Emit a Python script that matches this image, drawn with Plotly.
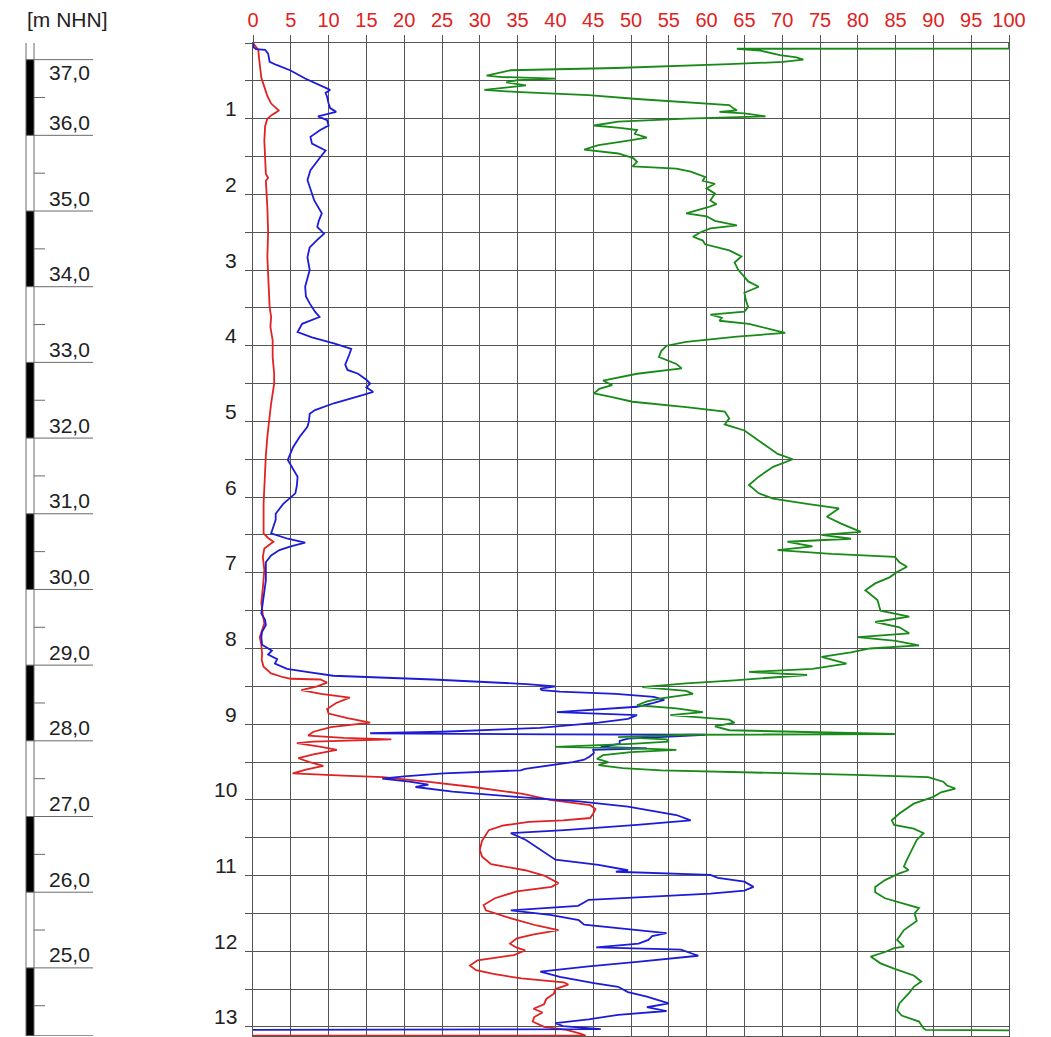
import plotly.graph_objects as go

# ---- scales -------------------------------------------------------------
GROUND_LEVEL = 37.22          # m NHN at depth 0
DEPTH_MAX = 13.12             # bottom of the log, m below ground
X_TICKS = list(range(0, 101, 5))
DEPTH_LABELS = list(range(1, 14))
ELEV_LABELS = list(range(37, 24, -1))

# ---- readings (depth in m, value on the 0..100 scale) ---------------------
red_depth = [0.00, 0.05, 0.09, 0.20, 0.30, 0.46, 0.58, 0.70, 0.80, 0.86, 0.89, 0.92, 0.95, 1.00,
             1.10, 1.29, 1.50, 1.73, 1.78, 1.82, 2.17, 2.50, 2.83, 3.05, 3.30, 3.49, 3.62, 3.75,
             3.93, 4.15, 4.37, 4.50, 4.76, 5.00, 5.20, 5.45, 5.65, 6.09, 6.48, 6.54, 6.59, 6.63,
             6.68, 6.79, 6.96, 7.20, 7.40, 7.55, 7.67, 7.85, 7.95, 8.07, 8.15, 8.24, 8.30, 8.33,
             8.38, 8.40, 8.41, 8.45, 8.50, 8.55, 8.60, 8.65, 8.72, 8.80, 8.86, 8.92, 8.98, 9.04,
             9.10, 9.15, 9.18, 9.20, 9.23, 9.25, 9.30, 9.34, 9.40, 9.45, 9.50, 9.55, 9.60, 9.65,
             9.68, 9.70, 9.76, 9.83, 9.92, 10.00, 10.07, 10.12, 10.18, 10.24, 10.27, 10.29, 10.34,
             10.40, 10.54, 10.66, 10.75, 10.85, 10.93, 11.00, 11.10, 11.15, 11.21, 11.30, 11.39,
             11.46, 11.55, 11.66, 11.72, 11.78, 11.83, 11.90, 11.95, 11.99, 12.05, 12.12, 12.19,
             12.25, 12.30, 12.36, 12.41, 12.44, 12.50, 12.56, 12.63, 12.70, 12.76, 12.81, 12.87,
             12.93, 13.00, 13.04, 13.09, 13.115, 13.115]
red_val = [0.0, 0.4, 0.7, 0.8, 0.9, 1.1, 1.5, 1.9, 2.4, 3.1, 3.4, 3.0, 2.5, 1.9,
           1.6, 1.5, 1.6, 1.7, 2.0, 1.7, 1.9, 2.0, 1.9, 2.0, 2.1, 2.2, 2.4, 2.3,
           2.6, 2.6, 2.8, 2.8, 2.4, 2.1, 1.9, 1.7, 1.6, 1.4, 1.4, 2.0, 2.7, 2.2,
           1.5, 1.3, 1.5, 1.3, 1.1, 1.3, 1.5, 0.9, 1.1, 1.2, 1.15, 1.4, 2.0, 2.4,
           4.0, 5.0, 8.9, 9.8, 8.5, 6.4, 9.0, 12.8, 11.0, 9.8, 10.0, 12.5, 15.5, 10.3,
           8.0, 7.3, 12.0, 18.3, 8.0, 5.8, 9.0, 11.1, 8.0, 6.0, 7.5, 9.3, 7.0, 5.25,
           12.0, 17.2, 23.0, 29.1, 35.7, 39.3, 44.6, 45.3, 45.0, 44.6, 41.0, 36.5, 33.0,
           31.2, 30.3, 30.0, 30.3, 31.5, 36.0, 38.5, 40.4, 39.5, 34.9, 32.0, 30.5,
           30.8, 33.6, 37.5, 40.4, 37.0, 34.9, 34.0, 34.8, 36.0, 34.5, 29.7, 28.7,
           29.5, 31.8, 35.5, 41.1, 41.7, 40.0, 39.8, 38.8, 38.5, 37.1, 38.3, 37.2,
           37.0, 38.5, 41.5, 43.3, 44.0, 0.0]

blue_depth = [0.00, 0.06, 0.08, 0.09, 0.14, 0.25, 0.29, 0.36, 0.47, 0.56, 0.62, 0.66, 0.71, 0.80,
              0.86, 0.91, 0.97, 1.02, 1.09, 1.15, 1.24, 1.33, 1.42, 1.51, 1.60, 1.68, 1.81, 1.90,
              1.99, 2.08, 2.25, 2.35, 2.43, 2.52, 2.60, 2.70, 2.83, 3.00, 3.22, 3.35, 3.44, 3.55,
              3.62, 3.67, 3.71, 3.82, 3.89, 3.97, 4.04, 4.10, 4.15, 4.25, 4.32, 4.37, 4.45, 4.50,
              4.55, 4.61, 4.65, 4.70, 4.76, 4.85, 4.90, 5.00, 5.07, 5.20, 5.34, 5.51, 5.62, 5.73,
              5.85, 5.95, 6.09, 6.22, 6.30, 6.39, 6.48, 6.55, 6.60, 6.65, 6.70, 6.77, 6.86, 7.10,
              7.32, 7.45, 7.54, 7.62, 7.69, 7.78, 7.85, 7.95, 8.03, 8.08, 8.14, 8.20, 8.27, 8.31,
              8.36, 8.41, 8.47, 8.50, 8.53, 8.55, 8.57, 8.60, 8.64, 8.68, 8.72, 8.77, 8.80, 8.84,
              8.88, 8.93, 8.98, 9.05, 9.10, 9.12, 9.135, 9.14, 9.17, 9.19, 9.22, 9.26, 9.30, 9.32,
              9.34, 9.38, 9.43, 9.47, 9.50, 9.54, 9.59, 9.61, 9.63, 9.65, 9.69, 9.72, 9.76, 9.80,
              9.83, 9.89, 9.96, 10.02, 10.09, 10.15, 10.20, 10.27, 10.33, 10.40, 10.44, 10.53,
              10.66, 10.79, 10.86, 10.93, 10.95, 10.97, 10.99, 11.03, 11.08, 11.15, 11.20, 11.24,
              11.32, 11.40, 11.46, 11.52, 11.59, 11.65, 11.72, 11.76, 11.80, 11.85, 11.90, 11.95,
              11.98, 12.06, 12.14, 12.20, 12.27, 12.34, 12.42, 12.47, 12.54, 12.60, 12.69, 12.74,
              12.79, 12.84, 12.90, 12.95, 12.99, 13.03, 13.04]
blue_val = [0.0, 0.1, 0.4, 1.6, 2.0, 2.2, 3.1, 4.9, 6.9, 8.9, 10.2, 9.6, 9.8, 10.0,
            10.2, 11.0, 8.6, 9.8, 10.0, 8.9, 7.6, 7.8, 9.6, 8.9, 8.2, 7.6, 7.2, 7.5,
            7.8, 8.1, 9.1, 8.7, 8.5, 9.4, 8.5, 7.5, 7.2, 7.5, 6.9, 7.0, 7.5, 8.2,
            8.8, 7.6, 6.5, 5.9, 7.8, 10.7, 13.0, 12.8, 12.6, 12.2, 12.5, 13.9, 15.0, 15.5,
            15.0, 15.9, 14.6, 12.8, 10.7, 8.2, 7.5, 7.4, 7.2, 6.2, 5.3, 4.6, 5.3, 5.9,
            5.8, 5.6, 4.0, 3.0, 3.0, 2.7, 2.4, 4.6, 6.9, 5.0, 3.5, 2.4, 1.7, 1.7,
            1.4, 1.3, 1.1, 1.6, 1.7, 1.2, 1.1, 1.2, 2.5, 2.0, 3.2, 2.9, 4.5, 7.1,
            10.6, 23.8, 36.2, 40.0, 38.0, 38.2, 40.6, 48.0, 53.0, 54.4, 53.0, 50.8, 46.0, 40.2,
            50.8, 49.6, 45.7, 38.0, 25.0, 15.5, 40.0, 59.8, 53.8, 49.6, 48.5, 48.5, 46.0, 52.1,
            45.0, 45.1, 44.5, 43.8, 42.3, 39.3, 36.0, 35.4, 30.0, 25.2, 20.0, 17.1, 20.7, 23.2,
            21.5, 26.4, 34.8, 43.1, 49.6, 53.0, 56.0, 57.9, 50.8, 41.2, 34.1, 36.1,
            38.0, 40.0, 45.7, 49.6, 48.0, 54.0, 60.5, 61.5, 65.0, 66.2, 65.0, 60.5,
            44.4, 43.0, 34.1, 39.3, 43.1, 43.8, 50.8, 54.7, 52.8, 52.3, 51.0, 45.4,
            56.6, 58.9, 50.8, 44.4, 38.0, 40.6, 45.1, 48.3, 49.6, 52.1, 55.0, 52.1,
            54.7, 48.3, 44.4, 40.0, 41.0, 46.0, 0.0]

green_depth = [0.00, 0.075, 0.076, 0.10, 0.16, 0.19, 0.22, 0.25, 0.28, 0.30, 0.33, 0.36, 0.43, 0.45,
               0.47, 0.49, 0.52, 0.56, 0.59, 0.62, 0.65, 0.69, 0.74, 0.78, 0.82, 0.86, 0.89, 0.91,
               0.93, 0.97, 1.00, 1.04, 1.09, 1.12, 1.15, 1.20, 1.25, 1.30, 1.35, 1.41, 1.46, 1.52,
               1.57, 1.63, 1.66, 1.70, 1.77, 1.82, 1.86, 1.92, 1.99, 2.08, 2.13, 2.17, 2.25, 2.29,
               2.35, 2.41, 2.45, 2.50, 2.56, 2.61, 2.66, 2.74, 2.82, 2.90, 3.00, 3.09, 3.15, 3.22,
               3.30, 3.40, 3.49, 3.55, 3.59, 3.63, 3.67, 3.71, 3.80, 3.83, 3.88, 3.95, 4.00, 4.07,
               4.15, 4.24, 4.30, 4.37, 4.46, 4.52, 4.57, 4.63, 4.68, 4.74, 4.81, 4.87, 4.96, 5.04,
               5.12, 5.29, 5.43, 5.50, 5.60, 5.73, 5.84, 5.95, 6.02, 6.09, 6.15, 6.26, 6.35, 6.46,
               6.50, 6.55, 6.59, 6.65, 6.70, 6.75, 6.79, 6.86, 6.92, 6.99, 7.06, 7.14, 7.23, 7.36,
               7.50, 7.58, 7.65, 7.72, 7.80, 7.85, 7.90, 7.96, 8.00, 8.05, 8.11, 8.20, 8.27, 8.31,
               8.35, 8.42, 8.46, 8.51, 8.56, 8.60, 8.66, 8.70, 8.75, 8.79, 8.84, 8.88, 8.94, 8.98,
               9.03, 9.08, 9.12, 9.13, 9.14, 9.17, 9.20, 9.23, 9.26, 9.30, 9.32, 9.34, 9.37, 9.41,
               9.46, 9.50, 9.54, 9.58, 9.61, 9.63, 9.67, 9.70, 9.76, 9.81, 9.85, 9.90, 9.96, 10.05,
               10.18, 10.27, 10.33, 10.38, 10.44, 10.53, 10.66, 10.77, 10.88, 10.93, 10.97, 11.06,
               11.15, 11.22, 11.30, 11.37, 11.43, 11.50, 11.60, 11.72, 11.85, 11.94, 11.96, 12.01,
               12.07, 12.16, 12.23, 12.32, 12.40, 12.47, 12.55, 12.69, 12.78, 12.85, 12.93, 13.02,
               13.04, 13.045]
green_val = [100.0, 100.0, 64.0, 67.1, 69.7, 71.9, 72.8, 70.1, 63.0, 57.0, 48.0, 34.1, 30.9, 33.0,
             40.0, 35.0, 33.5, 36.1, 33.0, 30.6, 35.4, 44.4, 50.8, 57.3, 63.0, 63.5, 64.0, 61.7,
             65.0, 67.8, 57.3, 48.3, 45.1, 48.5, 50.8, 50.5, 52.1, 49.0, 45.7, 43.8, 48.3, 50.3,
             50.8, 50.2, 56.0, 57.9, 59.8, 59.5, 61.1, 60.0, 61.1, 60.5, 61.3, 60.2, 57.3, 60.0,
             61.1, 64.0, 60.5, 59.2, 58.2, 59.5, 59.8, 63.0, 64.6, 63.7, 64.2, 65.0, 65.5, 66.9,
             65.0, 65.2, 65.5, 65.0, 60.5, 62.0, 61.7, 65.6, 69.4, 70.4, 64.0, 57.3, 54.7, 54.0,
             53.7, 56.0, 56.7, 50.8, 46.3, 47.5, 45.8, 45.1, 47.5, 50.2, 57.3, 62.4, 63.0, 62.4,
             65.0, 67.5, 69.4, 71.4, 68.8, 66.9, 65.6, 66.9, 68.8, 73.3, 77.5, 75.9, 77.8, 80.4,
             75.2, 79.1, 70.7, 74.0, 69.4, 76.5, 84.9, 85.5, 86.5, 85.2, 84.2, 82.3, 81.0, 82.6,
             83.0, 86.8, 82.3, 85.5, 86.8, 80.0, 85.0, 88.1, 81.6, 79.1, 75.2, 78.5, 74.0, 65.6,
             73.3, 63.7, 57.3, 51.5, 57.3, 58.2, 54.0, 52.1, 50.8, 56.0, 59.5, 55.2, 63.0, 63.7,
             61.1, 63.0, 82.9, 84.9, 57.3, 48.3, 54.7, 55.0, 50.0, 40.0, 51.0, 56.0, 50.0, 46.3,
             45.5, 47.0, 45.7, 48.9, 54.0, 63.7, 79.7, 89.3, 91.3, 91.8, 92.9, 91.0, 90.0, 87.4,
             85.5, 84.5, 84.8, 87.4, 88.7, 87.8, 87.1, 86.6, 86.1, 86.7, 85.5, 83.6,
             82.3, 82.3, 83.6, 86.1, 88.1, 87.5, 87.8, 86.1, 85.2, 86.1, 84.8, 83.6,
             81.7, 83.0, 84.8, 87.4, 88.4, 87.4, 86.8, 85.5, 85.2, 85.8, 88.1, 88.7,
             89.0, 100.0]

# ---- styling ------------------------------------------------------------
FONT = "Liberation Sans, Arial, sans-serif"
GRID = "#555555"
SCALE_LINE = "#6a6a6a"
RED = "#e02222"
BLUE = "#1c1cd8"
GREEN = "#178a17"
TEXT = "#222222"

PAPER_W = 1051 - 42            # width inside the right margin
MAIN_X0 = 253 / PAPER_W        # left edge of the log panel
SCALE_W = 120                  # elevation strip width in px

fig = go.Figure()
for xs, ys, col in [(red_val, red_depth, RED), (blue_val, blue_depth, BLUE), (green_val, green_depth, GREEN)]:
    fig.add_trace(go.Scatter(x=xs, y=ys, mode="lines", line=dict(color=col, width=1.8),
                             xaxis="x", yaxis="y", showlegend=False, hoverinfo="skip"))

# ---- elevation scale (x2/y2: 1 unit = 1 px horizontally, m NHN vertically) --
bottom_elev = GROUND_LEVEL - DEPTH_MAX
shapes = []
for top in ELEV_LABELS[::2]:
    shapes.append(dict(type="rect", xref="x2", yref="y2", x0=26, x1=34,
                       y0=max(top - 1, bottom_elev), y1=top,
                       fillcolor="black", line=dict(width=0), layer="above"))
for xline in (26, 34):
    shapes.append(dict(type="line", xref="x2", yref="y2", x0=xline, x1=xline,
                       y0=bottom_elev, y1=GROUND_LEVEL, line=dict(color=SCALE_LINE, width=1)))
for e in ELEV_LABELS:
    shapes.append(dict(type="line", xref="x2", yref="y2", x0=26, x1=93, y0=e, y1=e,
                       line=dict(color=SCALE_LINE, width=1)))
    half = e - 0.5
    if half > bottom_elev:
        shapes.append(dict(type="line", xref="x2", yref="y2", x0=34, x1=45, y0=half, y1=half,
                           line=dict(color=SCALE_LINE, width=1)))
shapes.append(dict(type="line", xref="x2", yref="y2", x0=26, x1=93, y0=bottom_elev, y1=bottom_elev,
                   line=dict(color=SCALE_LINE, width=1.5)))

annotations = []
for i, e in enumerate(ELEV_LABELS):
    # the top label drops below its line so it stays clear of the header
    annotations.append(dict(xref="x2", yref="y2", x=47, y=e, text=f"{e},0", showarrow=False,
                            xanchor="left", yanchor="middle", yshift=-13 if i == 0 else 13,
                            font=dict(family=FONT, size=21, color=TEXT)))
annotations.append(dict(xref="x2", yref="paper", x=25, y=1, yshift=24, text="[m NHN]",
                        showarrow=False, xanchor="left", yanchor="middle",
                        font=dict(family=FONT, size=21, color=TEXT)))

# depth labels sit just above their grid line
for d in DEPTH_LABELS:
    annotations.append(dict(xref="x", yref="y", x=0, y=d, text=str(d), showarrow=False,
                            xanchor="right", yanchor="middle", xshift=-14, yshift=10,
                            font=dict(family=FONT, size=21, color=TEXT)))

fig.update_layout(
    template="none",
    width=1051, height=1037,
    margin=dict(l=0, r=42, t=43, b=1, pad=0),
    paper_bgcolor="white", plot_bgcolor="white",
    hovermode=False,
    shapes=shapes,
    annotations=annotations,
    xaxis=dict(domain=[MAIN_X0, 1], range=[0, 100], side="top", anchor="y", automargin=False,
               tickmode="array", tickvals=X_TICKS, ticktext=[str(t) for t in X_TICKS],
               tickfont=dict(family=FONT, size=20, color=RED),
               ticks="outside", ticklen=7, tickcolor=GRID, tickwidth=1,
               showgrid=True, gridcolor=GRID, gridwidth=1, zeroline=False,
               showline=True, linecolor=GRID, linewidth=1, mirror=True, fixedrange=True),
    yaxis=dict(domain=[0, 1], range=[DEPTH_MAX, 0], anchor="x", automargin=False,
               tick0=0, dtick=0.5, showticklabels=False,
               ticks="outside", ticklen=7, tickcolor=GRID, tickwidth=1,
               showgrid=True, gridcolor=GRID, gridwidth=1, zeroline=False,
               showline=True, linecolor=GRID, linewidth=1, mirror=True, fixedrange=True),
    xaxis2=dict(domain=[0, SCALE_W / PAPER_W], range=[0, SCALE_W], anchor="y2",
                visible=False, automargin=False, fixedrange=True),
    yaxis2=dict(domain=[0, 1], range=[bottom_elev, GROUND_LEVEL], anchor="x2",
                visible=False, automargin=False, fixedrange=True),
)

fig.write_html("out.html")
